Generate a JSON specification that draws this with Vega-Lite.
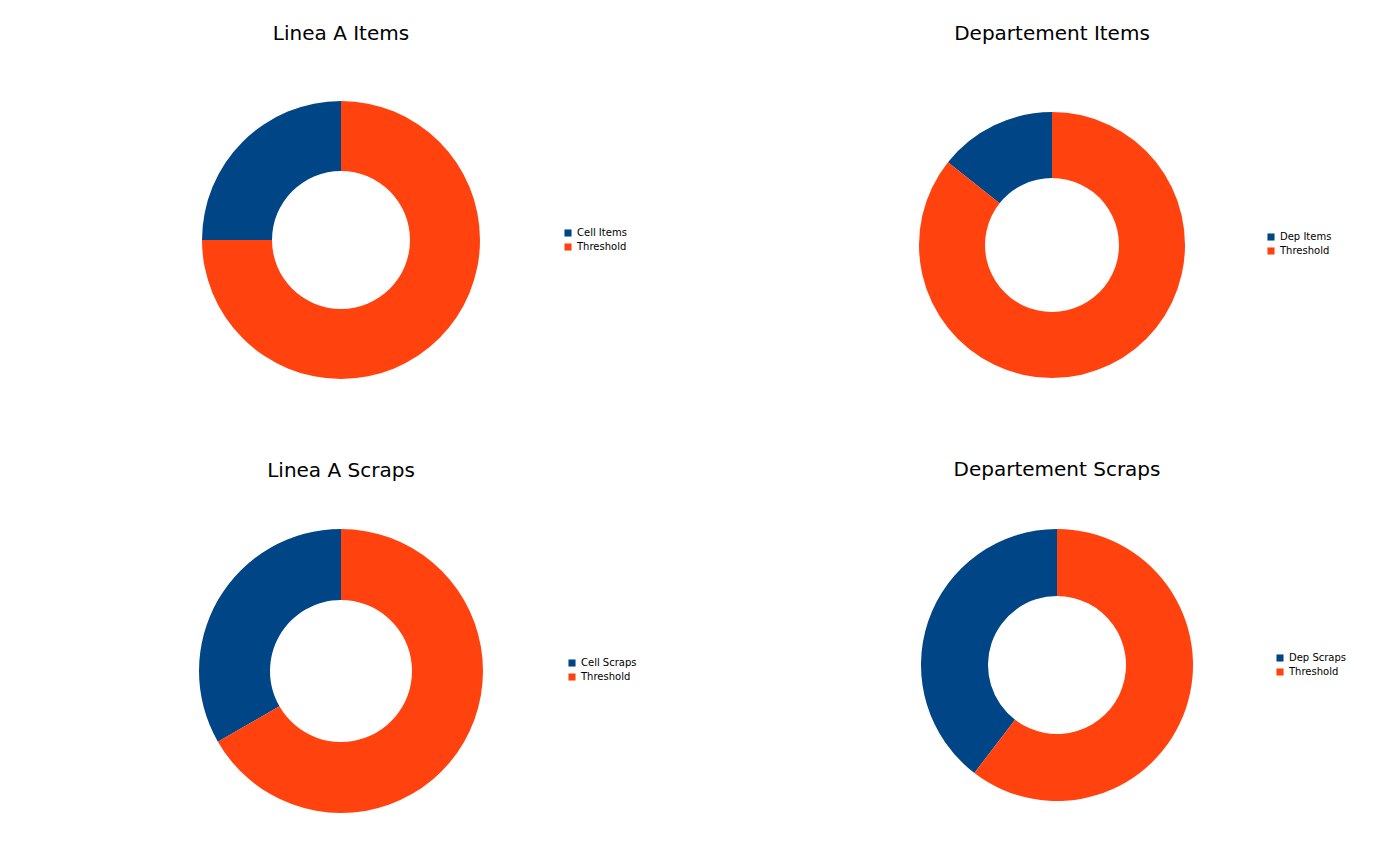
{
  "$schema": "https://vega.github.io/schema/vega-lite/v6.json",
  "background": "white",
  "padding": {"left": 131, "top": 24, "right": 0, "bottom": 0},
  "datasets": {
    "pies": [
      {"panel": "Linea A Items", "series": "Cell Items", "value": 25},
      {"panel": "Linea A Items", "series": "Threshold", "value": 75},
      {"panel": "Departement Items", "series": "Dep Items", "value": 14.3},
      {"panel": "Departement Items", "series": "Threshold", "value": 85.7},
      {"panel": "Linea A Scraps", "series": "Cell Scraps", "value": 33.3},
      {"panel": "Linea A Scraps", "series": "Threshold", "value": 66.7},
      {"panel": "Departement Scraps", "series": "Dep Scraps", "value": 39.6},
      {"panel": "Departement Scraps", "series": "Threshold", "value": 60.4}
    ]
  },
  "config": {
    "font": "DejaVu Sans",
    "view": {"stroke": null},
    "title": {"fontSize": 20, "fontWeight": "normal", "font": "DejaVu Sans", "color": "#000000"},
    "legend": {"labelFontSize": 10, "labelFont": "DejaVu Sans", "labelColor": "#000000", "symbolType": "square", "symbolSize": 50, "rowPadding": 4}
  },
  "vconcat": [
    {
      "hconcat": [
        {
          "title": {"text": "Linea A Items", "offset": 41},
          "width": 420, "height": 310,
          "data": {"name": "pies"},
          "transform": [{"filter": "datum.panel === 'Linea A Items'"}],
          "mark": {"type": "arc", "innerRadius": 69, "outerRadius": 139},
          "encoding": {
            "theta": {"field": "value", "type": "quantitative", "stack": true},
            "order": {"field": "series", "sort": "descending"},
            "color": {"field": "series", "type": "nominal", "scale": {"domain": ["Cell Items", "Threshold"], "range": ["#004586", "#ff420e"]}, "legend": {"title": null, "orient": "none", "legendX": 432, "legendY": 143}}
          }
        },
        {
          "title": {"text": "Departement Items", "offset": 41},
          "width": 420, "height": 320,
          "data": {"name": "pies"},
          "transform": [{"filter": "datum.panel === 'Departement Items'"}],
          "mark": {"type": "arc", "innerRadius": 67, "outerRadius": 133},
          "encoding": {
            "theta": {"field": "value", "type": "quantitative", "stack": true},
            "order": {"field": "series", "sort": "descending"},
            "color": {"field": "series", "type": "nominal", "scale": {"domain": ["Dep Items", "Threshold"], "range": ["#004586", "#ff420e"]}, "legend": {"title": null, "orient": "none", "legendX": 424, "legendY": 147}}
          }
        }
      ],
      "spacing": 215,
      "resolve": {"scale": {"color": "independent"}}
    },
    {
      "hconcat": [
        {
          "title": {"text": "Linea A Scraps", "offset": 28},
          "width": 420, "height": 324,
          "data": {"name": "pies"},
          "transform": [{"filter": "datum.panel === 'Linea A Scraps'"}],
          "mark": {"type": "arc", "innerRadius": 71, "outerRadius": 142},
          "encoding": {
            "theta": {"field": "value", "type": "quantitative", "stack": true},
            "order": {"field": "series", "sort": "descending"},
            "color": {"field": "series", "type": "nominal", "scale": {"domain": ["Cell Scraps", "Threshold"], "range": ["#004586", "#ff420e"]}, "legend": {"title": null, "orient": "none", "legendX": 436, "legendY": 149}}
          }
        },
        {
          "title": {"text": "Departement Scraps", "offset": 29},
          "width": 420, "height": 312,
          "data": {"name": "pies"},
          "transform": [{"filter": "datum.panel === 'Departement Scraps'"}],
          "mark": {"type": "arc", "innerRadius": 69, "outerRadius": 136},
          "encoding": {
            "theta": {"field": "value", "type": "quantitative", "stack": true},
            "order": {"field": "series", "sort": "descending"},
            "color": {"field": "series", "type": "nominal", "scale": {"domain": ["Dep Scraps", "Threshold"], "range": ["#004586", "#ff420e"]}, "legend": {"title": null, "orient": "none", "legendX": 428, "legendY": 144}}
          }
        }
      ],
      "spacing": 210,
      "resolve": {"scale": {"color": "independent"}}
    }
  ],
  "spacing": 55,
  "resolve": {"scale": {"color": "independent"}}
}
